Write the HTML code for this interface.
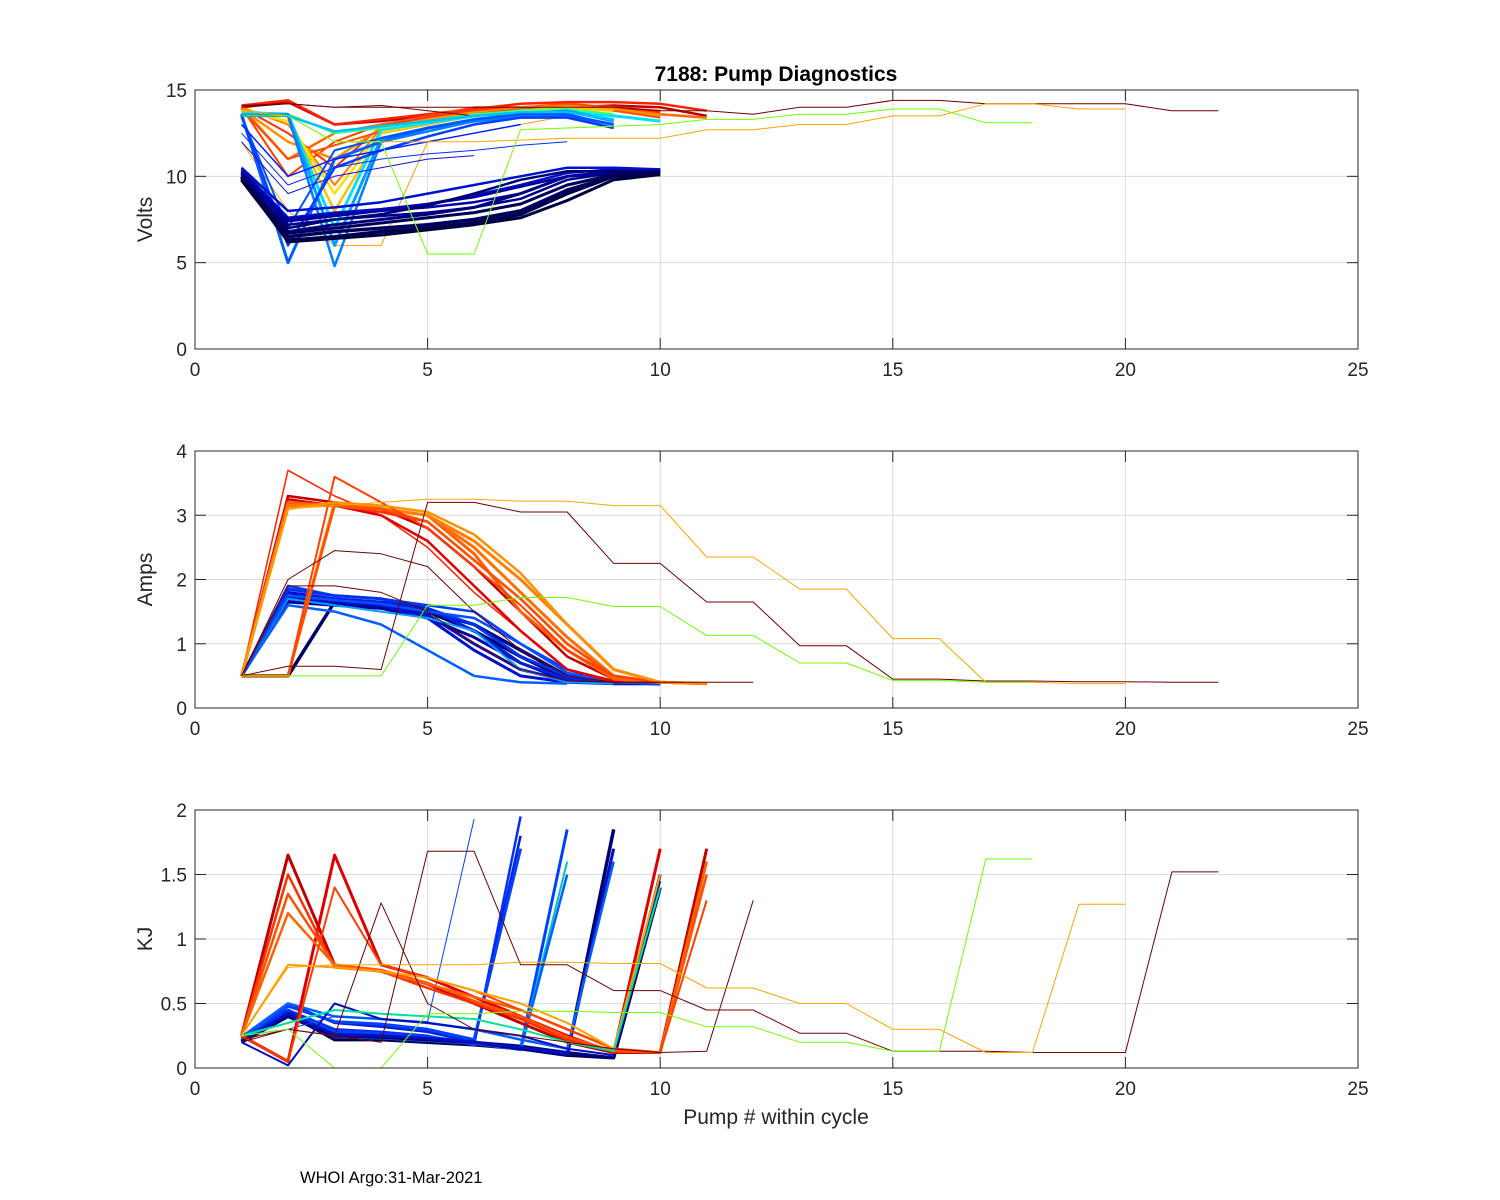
<!DOCTYPE html>
<html><head><meta charset="utf-8"><style>
body{margin:0;background:#fff;}
svg{display:block;font-family:"Liberation Sans",sans-serif;}
</style></head><body>
<svg id="c" width="1500" height="1200" viewBox="0 0 1500 1200"></svg>
<script>
// ---- data ----
const xTicks=[0,5,10,15,20,25];
const voltsTicks=[0,5,10,15];
const ampsTicks=[0,1,2,3,4];
const kjTicks=[0,0.5,1,1.5,2];
const kjTickLabels=["0","0.5","1","1.5","2"];

const voltsSeries=[
[14,14.3,13,13.2,13.5,13.8,14,14,14.1,14,13.5],
[14.1,14.4,13,13.3,13.6,13.9,14.2,14.3,14.3,14.2,13.8],
[14,10,12,13,13.5,14,14,14.2,14,13.8],
[14,11,12.5,13,13.4,13.8,14,14.1,14,13.6,13.4],
[14,12.5,10.5,12.9,13.4,13.8,14,14.1,14,13.7],
[14,13,9.5,12.8,13.3,13.7,14,14.1,13.9,13.6],
[13.9,12,11,12.8,13.3,13.7,13.9,14,13.9,13.5],
[13.9,11,11.8,12.6,13.2,13.6,13.9,14,13.8,13.4],
[13.8,13.5,8,12.5,13,13.5,13.8,14,13.8],
[13.8,13.2,9,12.6,13.1,13.5,13.8,13.9,13.6],
[13.7,13.6,7,12.7,13.1,13.5,13.8,13.8,13.5,13.2],
[13.7,13.6,12.5,12.8,13.2,13.6,13.8,13.9,13.6],
[12,8,6,6,12,12.5,13,13.5],
[14.1,14.2,14,14.1,13.8,13.5,13.6,13.4],
[13.6,13.6,6,12.2,12.8,13.3,13.6,13.8,13.2],
[13.6,13.5,12.6,12.9,13.2,13.5,13.7,13.7,13.3],
[13.6,5,11,12,12.8,13.2,13.5,13.5,13],
[13.5,13.5,4.8,12,12.6,13.2,13.5,13.6],
[13.5,6,10.5,11.5,12.3,13,13.4,13.4,12.8],
[13.5,7,11.5,12.2,12.8,13.3,13.6,13.6,13],
[13,10,11,11.5,12,12.5,13],
[12.5,9.5,10.5,11,11.3,11.5,11.8,12],
[12,9,10,10.5,11,11.2],
[10.5,8,8.2,8.5,9,9.5,10,10.5,10.5,10.4],
[10.4,7.6,7.9,8.1,8.4,8.9,9.5,10.2,10.4,10.4],
[10.3,7.5,7.8,8,8.2,8.5,9,10,10.3,10.3],
[10.3,7.2,7.5,7.7,7.9,8.2,8.7,9.8,10.2,10.3],
[10.2,6.8,7.2,7.5,7.8,8.2,9,10,10.2,10.3],
[10.1,7.4,7.7,8,8.4,8.8,9.4,10,10.3,10.3],
[10,7,7.5,7.8,8.3,9,9.8,10.3,10.3,10.3],
[10,6.5,6.8,7,7.2,7.5,8,9.2,10,10.2],
[9.9,6.7,7,7.3,7.6,7.9,8.4,9.5,10.1,10.2],
[9.8,6.3,6.5,6.8,7,7.3,7.8,9,10,10.1],
[9.9,6.2,6.4,6.6,6.9,7.2,7.6,8.6,9.8,10.1],
[14,14.2,14,14,14,14,14,14,14,13.8,13.8,13.6,14,14,14.4,14.4,14.2,14.2,14.2,14.2,13.8,13.8],
[13.8,13.5,12,12,12,12,12.1,12.2,12.2,12.2,12.7,12.7,13,13,13.5,13.5,14.2,14.2,13.9,13.9],
[13.5,13.5,12,12,5.5,5.5,12.7,12.8,12.9,13,13.3,13.3,13.6,13.6,13.9,13.9,13.1,13.1]
];
const voltsColors=["#c00000","#ff2000","#ff4000","#ff6a00","#ff3000","#ff8000","#ff9000","#ff5000","#ffc000","#ffe000","#00e0ff","#40ff80","#ffa000","#700000","#00a0ff","#00c0ff","#0060ff","#0080ff","#0040ff","#0050ff","#0020ff","#0030f0","#1010e0","#0010d0","#0010c0","#0000b0","#000090","#000080","#0000a0","#000070","#000060","#000058","#000050","#000040","#700000","#ffa500","#70ff00"];
const voltsWidths=[2.5,2.5,2,2.5,2,2,2.5,2,2.5,2.5,3,2,1,1,3,2.5,3,2.5,2.5,2,1.5,1,1,2.5,2.5,2.5,2.5,3,2.5,2.5,3.5,3,3.5,3,1,1,1];

const ampsSeries=[
[0.5,0.5,1.65,1.6,1.5,1.2,0.8,0.45,0.4,0.38],
[0.5,1.7,1.65,1.6,1.5,1.3,0.9,0.5,0.4,0.38],
[0.5,1.65,1.6,1.55,1.4,1.1,0.7,0.42,0.38,0.38],
[0.5,1.7,1.65,1.6,1.45,1.0,0.6,0.42,0.38,0.38],
[0.5,1.8,1.7,1.6,1.4,0.9,0.5,0.4,0.38,0.38],
[0.5,1.9,1.75,1.7,1.6,1.5,1,0.6,0.4,0.38],
[0.5,1.85,1.75,1.7,1.55,1.3,0.8,0.5,0.4,0.38],
[0.5,1.6,1.5,1.3,0.9,0.5,0.4,0.38],
[0.5,1.75,1.7,1.65,1.55,1.2,0.7,0.45,0.38],
[0.5,1.7,1.6,1.5,1.4,1.2,0.6,0.4,0.38],
[0.5,1.75,1.68,1.62,1.5,1.4,1.0,0.55,0.4,0.38],
[0.5,3.3,3.2,3.1,2.8,2.2,1.5,0.8,0.45,0.4],
[0.5,3.7,3.3,3,2.5,1.8,1.2,0.6,0.4,0.4],
[0.5,3.25,3.15,3,2.6,1.9,1.2,0.6,0.42,0.4],
[0.5,3.2,3.15,3.05,2.9,2.3,1.7,1.0,0.5,0.4],
[0.5,3.2,3.15,3.1,3,2.4,1.5,0.9,0.45,0.4,0.38],
[0.5,3.15,3.15,3.1,3.0,2.5,1.8,1.1,0.5,0.4,0.38],
[0.5,0.5,3.2,3.1,3,2.6,2,1.3,0.6,0.4,0.38],
[0.5,0.5,3.15,3.1,2.9,2.3,1.7,1.0,0.5,0.4,0.38],
[0.5,0.5,3.6,3.2,2.8,2.2,1.6,0.9,0.5,0.4],
[0.5,3.1,3.2,3.15,3.05,2.7,2.1,1.3,0.6,0.4,0.38],
[0.5,2,2.45,2.4,2.2,1.5,0.9,0.5,0.4,0.4],
[0.5,0.65,0.65,0.6,3.2,3.2,3.05,3.05,2.25,2.25,1.65,1.65,0.97,0.97,0.45,0.45,0.42,0.42,0.41,0.41,0.4,0.4],
[0.5,3.1,3.15,3.2,3.25,3.25,3.22,3.22,3.15,3.15,2.35,2.35,1.85,1.85,1.08,1.08,0.4,0.4,0.38,0.38],
[0.5,0.5,0.5,0.5,1.6,1.6,1.72,1.72,1.58,1.58,1.13,1.13,0.7,0.7,0.43,0.43,0.4,0.4],
[0.5,1.9,1.9,1.8,1.5,1,0.6,0.42,0.4,0.4,0.4,0.4]
];
const ampsColors=["#000060","#000080","#0000a0","#0010c0","#0010d0","#0040ff","#0030f0","#0060ff","#0020e0","#00a0ff","#0050ff","#c00000","#ff2000","#e00000","#ff3000","#ff6000","#ff7000","#ff8000","#ff5000","#ff4000","#ff9000","#700000","#700000","#ffa500","#70ff00","#700000"];
const ampsWidths=[3.5,3.5,3,3,3,2.5,3,2.5,3,2,2.5,2.5,1.5,2.5,2.5,3,3,3,2.5,2,2.5,1,1,1,1,1];

const kjSeries=[
[0.2,0.42,0.22,0.22,0.2,0.18,0.15,0.1,0.08,1.4],
[0.22,0.45,0.25,0.24,0.22,0.2,0.17,0.12,0.08,1.5],
[0.22,0.45,0.3,0.28,0.25,0.18,1.95],
[0.24,0.5,0.35,0.32,0.28,0.2,1.8],
[0.23,0.48,0.36,0.34,0.3,0.22,1.7],
[0.22,0.42,0.28,0.26,0.24,0.2,0.15,1.85],
[0.22,0.4,0.26,0.25,0.22,0.2,0.15,1.6],
[0.21,0.4,0.24,0.23,0.21,0.19,0.14,1.5],
[0.2,0.4,0.25,0.24,0.22,0.2,0.15,0.1,1.85],
[0.21,0.42,0.26,0.25,0.23,0.2,0.16,0.11,1.7],
[0.24,0.5,0.4,0.38,0.35,0.3,0.22,0.15,1.6],
[0.25,0.3,0.4,0.38,0.36,1.93],
[0.2,0.02,0.5,0.38,0.35,0.3,0.25,0.15,0.1,1.45],
[0.25,1.65,0.8,0.75,0.65,0.5,0.35,0.2,0.12,0.12,1.7],
[0.25,0.05,1.65,0.8,0.7,0.55,0.4,0.25,0.12,1.7],
[0.25,1.5,0.78,0.75,0.62,0.5,0.38,0.22,0.13,0.12,1.6],
[0.25,1.35,0.8,0.76,0.66,0.52,0.4,0.24,0.13,0.12,1.5],
[0.25,1.2,0.8,0.75,0.65,0.55,0.45,0.3,0.15,0.12,1.6],
[0.25,0.05,1.4,0.8,0.7,0.6,0.45,0.3,0.15,0.12,1.3],
[0.25,0.8,0.78,0.75,0.7,0.6,0.5,0.35,0.15,1.5],
[0.25,0.35,0.45,0.42,0.4,0.38,0.3,0.2,0.13,1.4],
[0.2,0.3,0.25,1.28,0.5,0.3,0.25,0.2,0.15,0.12,0.13,1.3],
[0.22,0.3,0.25,0.2,1.68,1.68,0.8,0.8,0.6,0.6,0.45,0.45,0.27,0.27,0.13,0.13,0.13,0.12,0.12,0.12,1.52,1.52],
[0.25,0.78,0.8,0.8,0.8,0.8,0.82,0.82,0.81,0.81,0.62,0.62,0.5,0.5,0.3,0.3,0.12,0.12,1.27,1.27],
[0.25,0.3,0,0,0.42,0.42,0.44,0.44,0.43,0.43,0.32,0.32,0.2,0.2,0.13,0.13,1.62,1.62]
];
const kjColors=["#000050","#000080","#0030ff","#0020e0","#0040ff","#0040ff","#00c0c0","#0060ff","#000070","#0010c0","#0060ff","#0040ff","#0010c0","#c00000","#e00000","#ff3000","#ff5000","#ff6000","#ff4000","#ffa000","#00e0a0","#700000","#700000","#ffa500","#70ff00"];
const kjWidths=[3.5,3,2.5,2.5,3,3,2,2.5,3.5,3,2.5,1,2,3,3,2.5,2.5,2.5,2,2,2,1,1,1,1];

// ---- drawing ----
const NS="http://www.w3.org/2000/svg";
const svg=document.getElementById('c');
const X0=195,X1=1358;
function xs(v){return X0+(v/25)*(X1-X0);}
function mk(tag,attrs,parent){const e=document.createElementNS(NS,tag);for(const k in attrs)e.setAttribute(k,attrs[k]);(parent||svg).appendChild(e);return e;}

function panel(name,top,bot,ymax,yt,ytl,series,colors,widths,ylabel){
  const g=mk('g',{});
  
  
  const ys=v=>bot-(v/ymax)*(bot-top);
  xTicks.forEach(t=>{if(t>0&&t<25){const l=mk('line',{x1:xs(t),x2:xs(t),y1:top,y2:bot,stroke:'#dcdcdc','stroke-width':1},g);}});
  yt.forEach(t=>{if(t>0&&t<ymax){const l=mk('line',{x1:X0,x2:X1,y1:ys(t),y2:ys(t),stroke:'#dcdcdc','stroke-width':1},g);}});
  series.forEach((s,i)=>{
    const pts=s.map((v,j)=>xs(j+1).toFixed(1)+','+ys(v).toFixed(1)).join(' ');
    const p=mk('polyline',{points:pts,fill:'none',stroke:colors[i],'stroke-width':widths[i],'stroke-linejoin':'round'},g);
    
    
  });
  const f=mk('rect',{x:X0,y:top,width:X1-X0,height:bot-top,fill:'none',stroke:'#262626','stroke-width':1},g);
  
  
  xTicks.forEach(t=>{
    mk('line',{x1:xs(t),x2:xs(t),y1:bot,y2:bot-11,stroke:'#262626'},g);
    mk('line',{x1:xs(t),x2:xs(t),y1:top,y2:top+11,stroke:'#262626'},g);
    const tx=mk('text',{x:xs(t),y:bot+27,'text-anchor':'middle','font-size':19,fill:'#262626'},g);
    tx.textContent=t;
    
    
  });
  yt.forEach((t,i)=>{
    mk('line',{x1:X0,x2:X0+11,y1:ys(t),y2:ys(t),stroke:'#262626'},g);
    mk('line',{x1:X1,x2:X1-11,y1:ys(t),y2:ys(t),stroke:'#262626'},g);
    const tx=mk('text',{x:X0-8,y:ys(t)+7,'text-anchor':'end','font-size':19,fill:'#262626'},g);
    tx.textContent=ytl[i];
    
    
  });
  const yl=mk('text',{x:0,y:0,transform:`translate(152,${(top+bot)/2}) rotate(-90)`,'text-anchor':'middle','font-size':21,fill:'#262626'},g);
  yl.textContent=ylabel;
  
  
}
panel('volts',90,349,15,voltsTicks,voltsTicks.map(String),voltsSeries,voltsColors,voltsWidths,'Volts');
panel('amps',451,708,4,ampsTicks,ampsTicks.map(String),ampsSeries,ampsColors,ampsWidths,'Amps');
panel('kj',810,1068,2,kjTicks,kjTickLabels,kjSeries,kjColors,kjWidths,'KJ');

const t=mk('text',{x:776,y:81,'text-anchor':'middle','font-size':21,'font-weight':'bold',fill:'#000'});
t.textContent='7188: Pump Diagnostics';


const xl=mk('text',{x:776,y:1124,'text-anchor':'middle','font-size':21,fill:'#262626'});
xl.textContent='Pump # within cycle';


const ft=mk('text',{x:300,y:1183,'font-size':16.5,fill:'#000'});
ft.textContent='WHOI Argo:31-Mar-2021';


</script>
</body></html>
